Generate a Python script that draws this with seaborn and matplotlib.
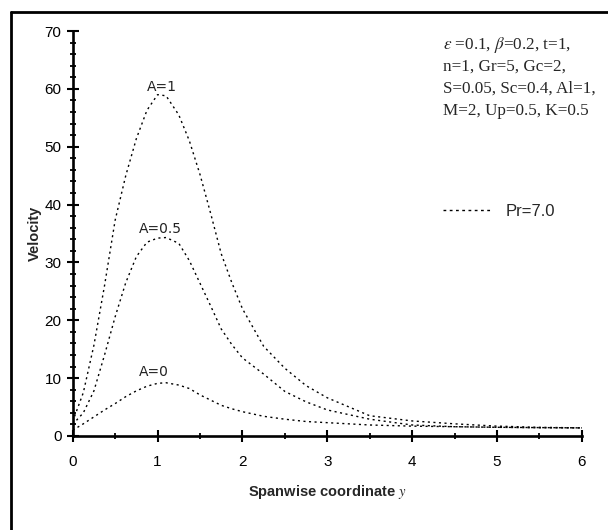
import numpy as np
import pandas as pd
import seaborn as sns
import matplotlib
matplotlib.use("Agg")
import matplotlib.pyplot as plt
from matplotlib.lines import Line2D
from matplotlib.ticker import MultipleLocator

# ---- data ----
y_coord = [0, 0.125, 0.25, 0.375, 0.5, 0.625, 0.75, 0.875, 1.0, 1.1, 1.25, 1.375, 1.5, 1.625,
           1.75, 1.875, 2.0, 2.25, 2.5, 2.75, 3.0, 3.5, 4.0, 4.5, 5.0, 5.5, 6.0]
vel_A1 = [2.5, 7.5, 15.7, 26.0, 37.3, 45.0, 51.4, 56.3, 59.0, 58.8, 55.5, 51.0, 45.2, 38.5,
          31.5, 26.5, 22.0, 15.5, 11.7, 8.7, 6.6, 3.5, 2.6, 2.1, 1.7, 1.5, 1.4]
vel_A05 = [2.0, 4.0, 7.8, 14.0, 20.6, 26.5, 31.0, 33.5, 34.2, 34.3, 33.3, 30.3, 26.4, 22.5,
           18.5, 15.8, 13.5, 10.7, 7.7, 5.9, 4.5, 2.9, 1.9, 1.6, 1.5, 1.4, 1.4]
vel_A0 = [1.0, 2.1, 3.3, 4.5, 5.6, 6.8, 7.8, 8.6, 9.1, 9.2, 8.8, 8.2, 7.1, 6.2,
          5.3, 4.7, 4.2, 3.4, 2.9, 2.5, 2.3, 1.9, 1.7, 1.6, 1.5, 1.45, 1.4]
series_names = ["A=1", "A=0.5", "A=0"]
label_pos = {"A=1": (1.05, 60.3), "A=0.5": (1.03, 35.7), "A=0": (0.96, 11.1)}

x_ticks = [0, 1, 2, 3, 4, 5, 6]
y_ticks = [0, 10, 20, 30, 40, 50, 60, 70]

df = pd.DataFrame({
    "y": y_coord * 3,
    "Velocity": vel_A1 + vel_A05 + vel_A0,
    "A": sum([[n] * len(y_coord) for n in series_names], []),
})

sns.set_theme(style="white")
plt.rcParams["font.family"] = ["Liberation Sans", "DejaVu Sans"]
plt.rcParams["mathtext.fontset"] = "stix"

fig = plt.figure(figsize=(6.08, 5.30), dpi=100)
ax = fig.add_axes([0.1196, 0.1774, 0.957 - 0.1196, 0.9415 - 0.1774])

dash = (0, (1.5, 2.5))
for name in series_names:
    sub = df[df["A"] == name]
    sns.lineplot(data=sub, x="y", y="Velocity", ax=ax, color="black",
                 linewidth=1.0, linestyle=dash, legend=False)

for name in series_names:
    px, py = label_pos[name]
    ax.text(px, py, name, ha="center", va="center", fontsize=10,
            family="DejaVu Sans", color="#222222")

ax.set_xlim(0, 6)
ax.set_ylim(0, 70)
ax.set_xticks(x_ticks)
ax.set_yticks(y_ticks)
ax.xaxis.set_minor_locator(MultipleLocator(0.5))
ax.yaxis.set_minor_locator(MultipleLocator(2))
ax.tick_params(which="major", direction="inout", length=8, width=1.5,
               labelsize=11, colors="black")
ax.tick_params(axis="x", which="major", pad=10)
ax.tick_params(axis="y", which="major", pad=4)
ax.tick_params(which="minor", direction="inout", length=5, width=1.3, colors="black")
ax.tick_params(axis="both", which="both", bottom=True, left=True, top=False, right=False)
for s in ["top", "right"]:
    ax.spines[s].set_visible(False)
for s in ["left", "bottom"]:
    ax.spines[s].set_linewidth(1.9)
    ax.spines[s].set_color("black")
ax.grid(False)

ax.set_xlabel(r"Spanwise coordinate $y$", fontsize=10.5, fontweight="bold", labelpad=10)
ax.set_ylabel("Velocity", fontsize=10.5, fontweight="bold", labelpad=2)

# parameter annotation
ann = [r"$\varepsilon$ =0.1, $\beta$=0.2, t=1,",
       "n=1, Gr=5, Gc=2,",
       "S=0.05, Sc=0.4, Al=1,",
       "M=2, Up=0.5, K=0.5"]
for i, line in enumerate(ann):
    fig.text(443 / 608, 1 - (45 + 22 * i) / 530, line, ha="left", va="center",
             fontsize=12.3, family="Liberation Serif")

# legend
handle = Line2D([], [], color="black", linewidth=1.0, linestyle=(0, (2, 2.5)))
leg = ax.legend([handle], ["Pr=7.0"], loc="center left",
                bbox_to_anchor=(443 / 608, 1 - 211 / 530),
                bbox_transform=fig.transFigure, frameon=False,
                handlelength=3.0, handletextpad=0.75, fontsize=12,
                borderaxespad=0, borderpad=0)

# outer frame (top and left edges)
fig.add_artist(Line2D([11 / 608, 1.0], [1 - 12 / 530, 1 - 12 / 530],
                      transform=fig.transFigure, color="black", linewidth=2))
fig.add_artist(Line2D([11 / 608, 11 / 608], [1 - 12 / 530, 0.0],
                      transform=fig.transFigure, color="black", linewidth=2))

fig.savefig("out.png", dpi=100)
